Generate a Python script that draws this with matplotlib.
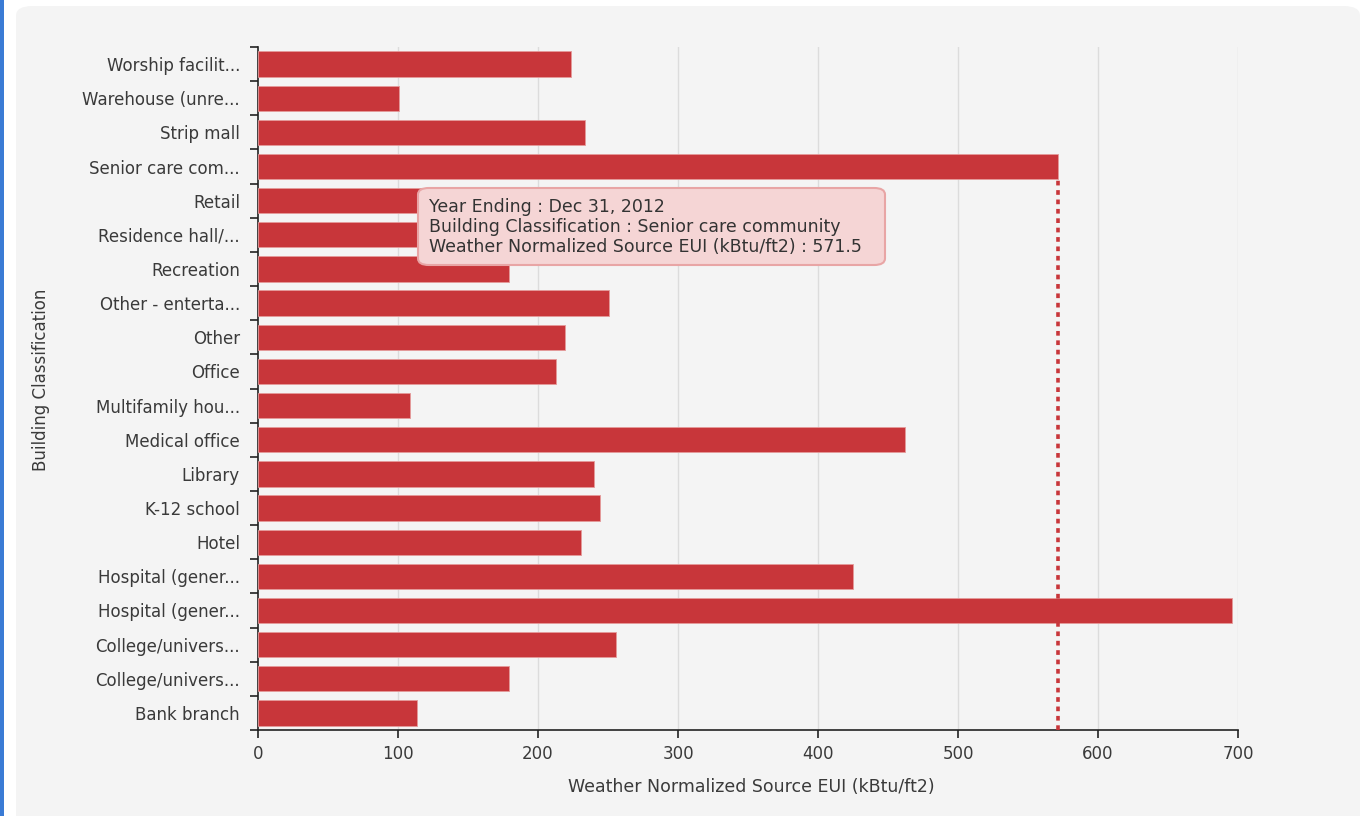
import matplotlib
matplotlib.use("Agg")
import matplotlib.pyplot as plt
from matplotlib.patches import FancyBboxPatch, Rectangle
import numpy as np

plt.rcParams['font.family'] = ['DejaVu Sans']

# Building classifications, bottom to top
categories = [
    "Bank branch", "College/univers...", "College/univers...", "Hospital (gener...",
    "Hospital (gener...", "Hotel", "K-12 school", "Library", "Medical office",
    "Multifamily hou...", "Office", "Other", "Other - enterta...", "Recreation",
    "Residence hall/...", "Retail", "Senior care com...", "Strip mall",
    "Warehouse (unre...", "Worship facilit...",
]
eui = [113.5, 179, 256, 696, 425, 231, 244, 240, 462,
       108.5, 213, 219, 251, 179, 205, 180, 571.5, 233.5, 101, 223.5]
x_ticks = [0, 100, 200, 300, 400, 500, 600, 700]

highlight_idx = categories.index("Senior care com...")
highlight_value = eui[highlight_idx]

W, H = 1367, 816
fig = plt.figure(figsize=(W / 100, H / 100), dpi=100)
fig.patch.set_facecolor("white")

# Panel background and left accent stripe
panel = FancyBboxPatch((16 / W, -20 / H), (1344 / W), (830 / H),
                       boxstyle="round,pad=0,rounding_size=0.012",
                       transform=fig.transFigure, facecolor="#f4f4f4",
                       edgecolor="none", zorder=-5)
fig.patches.append(panel)
fig.patches.append(Rectangle((0, 0), 4 / W, 1, transform=fig.transFigure,
                             facecolor="#3a7bd5", edgecolor="none", zorder=-4))

left, right, top, bottom = 258, 1238, 47, 730
aw, ah = right - left, bottom - top
ax = fig.add_axes([left / W, 1 - bottom / H, aw / W, ah / H])
ax.set_facecolor("none")
ax.set_zorder(1)

y = np.arange(len(categories))
ax.barh(y, eui, height=0.74, color="#c8363a", edgecolor="#e59a9a",
        linewidth=0.6, zorder=3)

ax.set_xlim(0, 700)
ax.set_ylim(-0.5, len(categories) - 0.5)

tick_kw = dict(fontsize=12, color="#3a3a3a")
title_kw = dict(fontsize=12.5, color="#3a3a3a")

# x axis
ax.set_xticks(x_ticks)
ax.set_xticklabels([str(t) for t in x_ticks], **tick_kw)
ax.tick_params(axis="x", length=6, width=1.2, color="#222222", pad=5)
for t in x_ticks[1:]:
    ax.axvline(t, color="#dcdcdc", linewidth=1, zorder=1)

# y axis: ticks on band edges, labels at band centres
ax.set_yticks(np.arange(len(categories) + 1) - 0.5)
ax.set_yticklabels([])
ax.tick_params(axis="y", which="major", length=6, width=1.2, color="#222222")
ax.set_yticks(y, minor=True)
ax.set_yticklabels(categories, minor=True, **tick_kw)
ax.tick_params(axis="y", which="minor", length=0, pad=13)

for s in ("top", "right"):
    ax.spines[s].set_visible(False)
for s in ("left", "bottom"):
    ax.spines[s].set_color("#222222")
    ax.spines[s].set_linewidth(1.2)

ax.set_xlabel("Weather Normalized Source EUI (kBtu/ft2)", **title_kw)
ax.set_ylabel("Building Classification", fontsize=12, color="#3a3a3a")
ax.xaxis.set_label_coords((751 - left) / aw, (bottom - 778) / ah)
ax.yaxis.set_label_coords((50 - left) / aw, (bottom - 380) / ah)

# Hover guide line from the highlighted bar down to the axis
ax.plot([highlight_value, highlight_value], [-0.5, highlight_idx - 0.37],
        linestyle=(0, (1.3, 1.3)), color="#c8363a", linewidth=2.6, zorder=4)

# Tooltip
tip_text = ("Year Ending : Dec 31, 2012\n"
            "Building Classification : Senior care community\n"
            f"Weather Normalized Source EUI (kBtu/ft2) : {highlight_value}")
tip_box = FancyBboxPatch((418 / W, 1 - 265 / H), (467 / W), (77 / H),
                         boxstyle="round,pad=0,rounding_size=0.008",
                         transform=fig.transFigure, facecolor="#f5d5d5",
                         edgecolor="#e8a5a5", linewidth=1.5, zorder=10)
fig.patches.append(tip_box)
fig.text(429 / W, 1 - 227 / H, tip_text, fontsize=12.5, color="#333333",
         va="center", ha="left", linespacing=1.12, zorder=11)

fig.savefig("out.png", dpi=100)
